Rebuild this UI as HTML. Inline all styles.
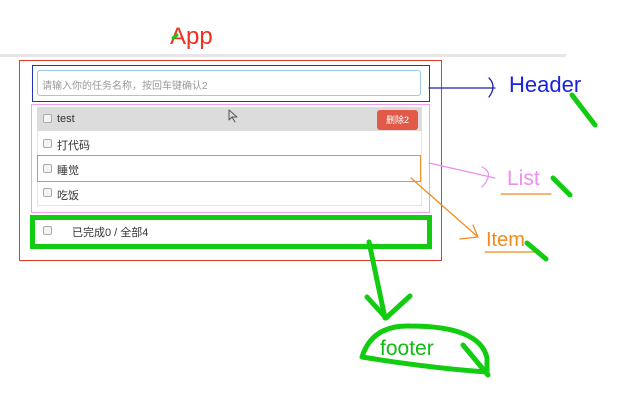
<!DOCTYPE html>
<html><head><meta charset="utf-8"><style>
body{margin:0;width:631px;height:402px;background:#fff;position:relative;overflow:hidden;font-family:"Liberation Sans","Noto Sans CJK SC",sans-serif}
.a{position:absolute;box-sizing:border-box}
.cb{position:absolute;width:9px;height:9px;border:1px solid #aaa;border-radius:2px;background:#f4f4f4;box-sizing:border-box}
.t{position:absolute;font-size:11px;color:#333}
</style></head><body>
<div class="a" style="left:0;top:54px;width:566px;height:3px;background:#e6e6e6"></div>
<div class="a" style="left:19px;top:60px;width:423px;height:201px;border:1px solid #e03a2a"></div>
<div class="a" style="left:32px;top:65px;width:398px;height:37px;border:1px solid #2233bb"></div>
<div class="a" style="left:37px;top:70px;width:384px;height:26px;border:1px solid #9cc8ee;border-radius:3px"></div>
<div class="t" style="left:42px;top:77px;color:#999;font-size:10px">请输入你的任务名称，按回车键确认2</div>
<div class="a" style="left:31px;top:104px;width:399px;height:109px;border:1px solid #f0a0f0"></div>
<div class="a" style="left:37px;top:107px;width:385px;height:99px;border:1px solid #e4e4e4"></div>
<div class="a" style="left:37px;top:107px;width:385px;height:24px;background:#dcdcdc"></div>
<div class="a" style="left:377px;top:110px;width:41px;height:20px;background:#e05a47;border-radius:3px;color:#fff;font-size:9px;text-align:center;line-height:20px">删除2</div>
<div class="cb" style="left:43px;top:114px"></div><div class="t" style="left:57px;top:113px">test</div>
<div class="cb" style="left:43px;top:139px"></div><div class="t" style="left:57px;top:137px">打代码</div>
<div class="a" style="left:37px;top:155px;width:384px;height:27px;border:1px solid #f0902a"></div>
<div class="cb" style="left:43px;top:164px"></div><div class="t" style="left:57px;top:162px">睡觉</div>
<div class="cb" style="left:43px;top:188px"></div><div class="t" style="left:57px;top:187px">吃饭</div>
<div class="a" style="left:30px;top:215px;width:402px;height:34px;border:5px solid #11cc11"></div>
<div class="cb" style="left:43px;top:226px"></div><div class="t" style="left:72px;top:224px">已完成0 / 全部4</div>
<div class="a" style="left:170px;top:23px;font-size:24px;color:#f03020">App</div>
<div class="a" style="left:509px;top:72px;font-size:22px;color:#1a22e0">Header</div>
<div class="a" style="left:507px;top:167px;font-size:21px;color:#f08cf0">List</div>
<div class="a" style="left:486px;top:229px;font-size:20px;color:#f08a1a">Item</div>
<div class="a" style="left:380px;top:337px;font-size:21px;color:#11bb11">footer</div>
<svg class="a" style="left:0;top:0" width="631" height="402" fill="none" stroke-linecap="round" stroke-linejoin="round">
<path d="M173 38l4 -3" stroke="#11cc11" stroke-width="3"/>
<path d="M429 88H495M489 78q8 8 0 19" stroke="#1a22b0" stroke-width="1.3"/>
<path d="M572 95L595 125" stroke="#11cc11" stroke-width="5"/>
<path d="M429 163L495 178M482 167q13 6 0 20" stroke="#f08cf0" stroke-width="1.2"/>
<path d="M501 194H551" stroke="#f08a1a" stroke-width="1.2"/>
<path d="M553 178L570 195" stroke="#11cc11" stroke-width="5"/>
<path d="M411 178L478 237M473 225l5 12l-18 2" stroke="#f08a1a" stroke-width="1.2"/>
<path d="M485 252H535" stroke="#f08a1a" stroke-width="1.2"/>
<path d="M527 243L546 259" stroke="#11cc11" stroke-width="5"/>
<path d="M369 242L385 318M367 297L386 318L410 296" stroke="#11cc11" stroke-width="5"/>
<path d="M362 357Q372 325 410 326Q480 326 487 358L487 372Q430 368 362 357" stroke="#11cc11" stroke-width="5"/>
<path d="M463 345L488 375" stroke="#11cc11" stroke-width="5"/>
<path d="M229 110v10l3 -3l3 5M229 110l8 7h-5" stroke="#555" stroke-width="1"/>
</svg>
</body></html>
